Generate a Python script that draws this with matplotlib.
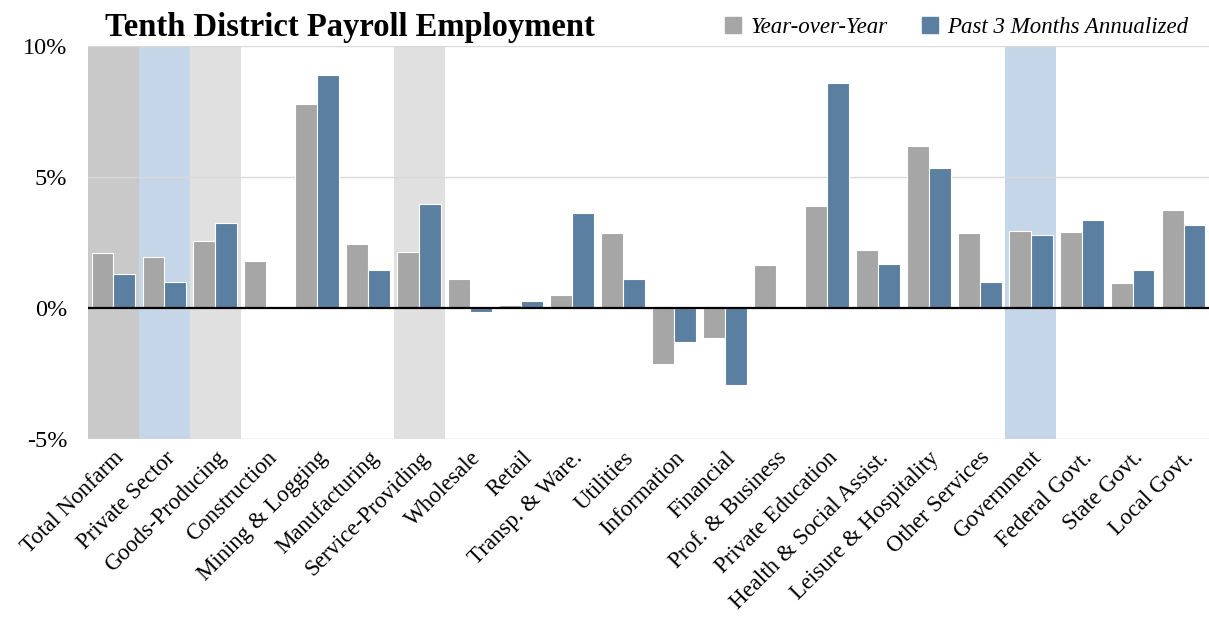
import matplotlib
matplotlib.use("Agg")
import matplotlib.pyplot as plt
import numpy as np
from matplotlib.patches import Patch

categories = ["Total Nonfarm", "Private Sector", "Goods-Producing", "Construction",
              "Mining & Logging", "Manufacturing", "Service-Providing", "Wholesale",
              "Retail", "Transp. & Ware.", "Utilities", "Information", "Financial",
              "Prof. & Business", "Private Education", "Health & Social Assist.",
              "Leisure & Hospitality", "Other Services", "Government", "Federal Govt.",
              "State Govt.", "Local Govt."]
yoy = [2.1, 1.95, 2.55, 1.8, 7.8, 2.45, 2.15, 1.1, 0.1, 0.5, 2.85, -2.15, -1.15,
       1.63, 3.9, 2.2, 6.18, 2.87, 2.93, 2.9, 0.95, 3.74]
ann3 = [1.3, 1.0, 3.25, 0.0, 8.9, 1.45, 3.97, -0.15, 0.25, 3.63, 1.1, -1.3, -2.95,
        0.05, 8.6, 1.67, 5.35, 1.0, 2.78, 3.37, 1.45, 3.17]
shade = {"Total Nonfarm": "#c9c9c9", "Private Sector": "#c5d6e8",
         "Goods-Producing": "#e0e0e0", "Service-Providing": "#e0e0e0",
         "Government": "#c5d6e8"}
yticks = [-5, 0, 5, 10]
ytick_labels = ["-5%", "0%", "5%", "10%"]

plt.rcParams['font.family'] = ['Liberation Serif', 'DejaVu Serif']

fig = plt.figure(figsize=(12.09, 6.18), dpi=100)
ax = fig.add_axes([0.0728, 0.2896, 0.9272, 0.636])

x = np.arange(len(categories))
for i, c in enumerate(categories):
    if c in shade:
        ax.axvspan(i - 0.5, i + 0.5, color=shade[c], zorder=0, lw=0)

w = 0.43
ax.bar(x - w/2, yoy, w, color="#a6a6a6", edgecolor="white", linewidth=0.8, zorder=2,
       label="Year-over-Year")
ax.bar(x + w/2, ann3, w, color="#5a7fa1", edgecolor="white", linewidth=0.8, zorder=2,
       label="Past 3 Months Annualized")

ax.set_xlim(-0.5, len(categories) - 0.5)
ax.set_ylim(-5, 10)
ax.set_yticks(yticks)
ax.set_yticklabels(ytick_labels, fontsize=17.5)
for v in [-5, 5, 10]:
    ax.axhline(v, color="#d9d9d9", lw=1, zorder=1)
ax.axhline(0, color="black", lw=1.6, zorder=3)

ax.set_xticks(x)
ax.set_xticklabels(categories, rotation=45, ha="right", rotation_mode="anchor", fontsize=16.5)
ax.tick_params(axis="both", length=0)
ax.tick_params(axis="x", pad=6)
ax.tick_params(axis="y", pad=15)
for s in ax.spines.values():
    s.set_visible(False)

fig.text(0.087, 0.955, "Tenth District Payroll Employment", fontsize=23.5,
         fontweight="bold", va="center", ha="left")

handles = [Patch(color="#a6a6a6"), Patch(color="#5a7fa1")]
leg = fig.legend(handles, ["Year-over-Year", "Past 3 Months Annualized"],
                 loc="center right", bbox_to_anchor=(1.0, 0.955), ncol=2,
                 frameon=False, prop={"style": "italic", "size": 16.5},
                 handlelength=0.7, handleheight=0.7, handletextpad=0.4,
                 columnspacing=1.5)

fig.savefig("out.png", dpi=100)
